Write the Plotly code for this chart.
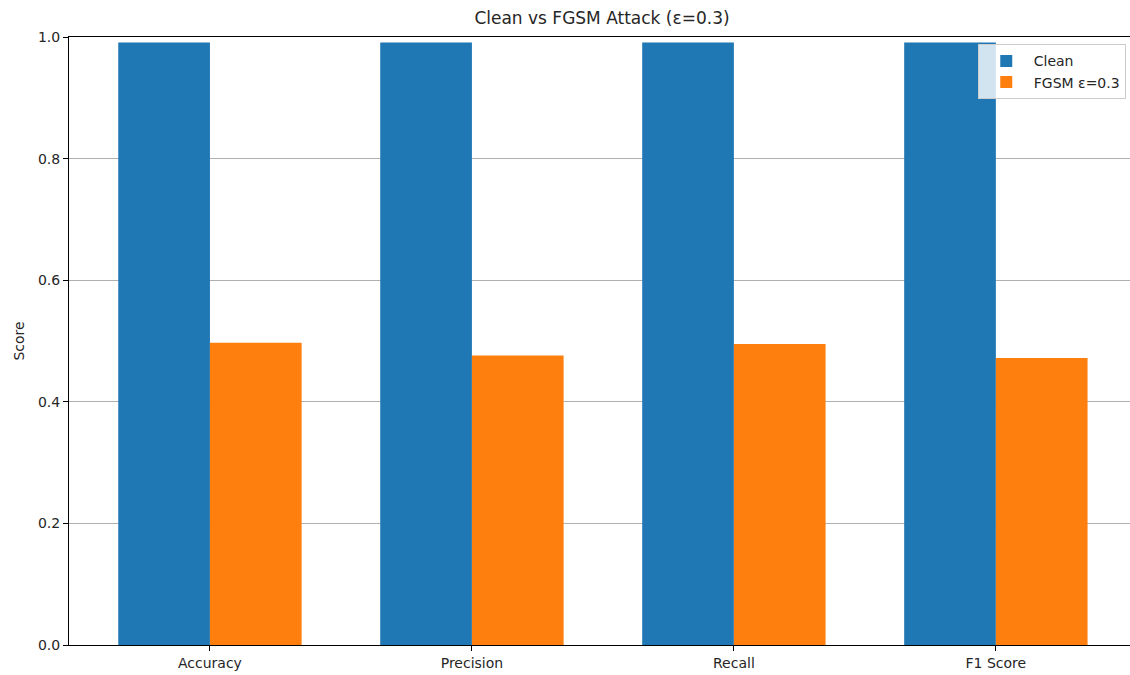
import numpy as np
import plotly.graph_objects as go

categories = ["Accuracy", "Precision", "Recall", "F1 Score"]
clean_scores = [0.991, 0.991, 0.991, 0.991]
fgsm_scores = [0.497, 0.476, 0.495, 0.472]
series_names = ["Clean", "FGSM ε=0.3"]
y_ticks = [0.0, 0.2, 0.4, 0.6, 0.8, 1.0]

bar_w = 0.35
pos = np.arange(len(categories))

FONT = "DejaVu Sans"
fig = go.Figure()
fig.add_trace(go.Bar(x=pos - bar_w / 2, y=clean_scores, width=bar_w, name=series_names[0],
                     marker=dict(color="#1f77b4", line=dict(width=0))))
fig.add_trace(go.Bar(x=pos + bar_w / 2, y=fgsm_scores, width=bar_w, name=series_names[1],
                     marker=dict(color="#ff7f0e", line=dict(width=0))))

fig.update_layout(
    width=1130, height=675,
    barmode="overlay",
    paper_bgcolor="white", plot_bgcolor="white",
    margin=dict(l=69, r=0, t=37, b=30, autoexpand=False),
    font=dict(family=FONT, size=14, color="#262626"),
    title=dict(text="Clean vs FGSM Attack (ε=0.3)", x=(69 + 1135) / 2 / 1130, xanchor="center",
               y=1 - 18 / 675, yanchor="middle", font=dict(size=17, family=FONT, color="#262626")),
    legend=dict(x=0.996, y=0.988, xanchor="right", yanchor="top",
                bgcolor="rgba(255,255,255,0.8)", bordercolor="#cccccc", borderwidth=1,
                font=dict(size=14, family=FONT), tracegroupgap=0,
                itemwidth=45),
    showlegend=True,
)
fig.update_xaxes(range=[-0.538, 3.512], tickmode="array", tickvals=pos, ticktext=categories,
                 showline=True, linecolor="black", linewidth=1, mirror=True,
                 ticks="outside", ticklen=5, tickcolor="black", showgrid=False, zeroline=False,
                 tickfont=dict(size=14))
fig.update_yaxes(range=[0, 1], tickmode="array", tickvals=y_ticks,
                 ticktext=[f"{v:.1f}" for v in y_ticks],
                 showline=True, linecolor="black", linewidth=1, mirror=False,
                 ticks="outside", ticklen=5, tickcolor="black",
                 showgrid=True, gridcolor="#b0b0b0", gridwidth=1, zeroline=False,
                 title=dict(text="Score", standoff=10, font=dict(size=14)),
                 tickfont=dict(size=14))

fig.write_html("out.html", config={"displayModeBar": False},
               post_script="document.body.style.margin='0';document.body.style.overflow='hidden';")
